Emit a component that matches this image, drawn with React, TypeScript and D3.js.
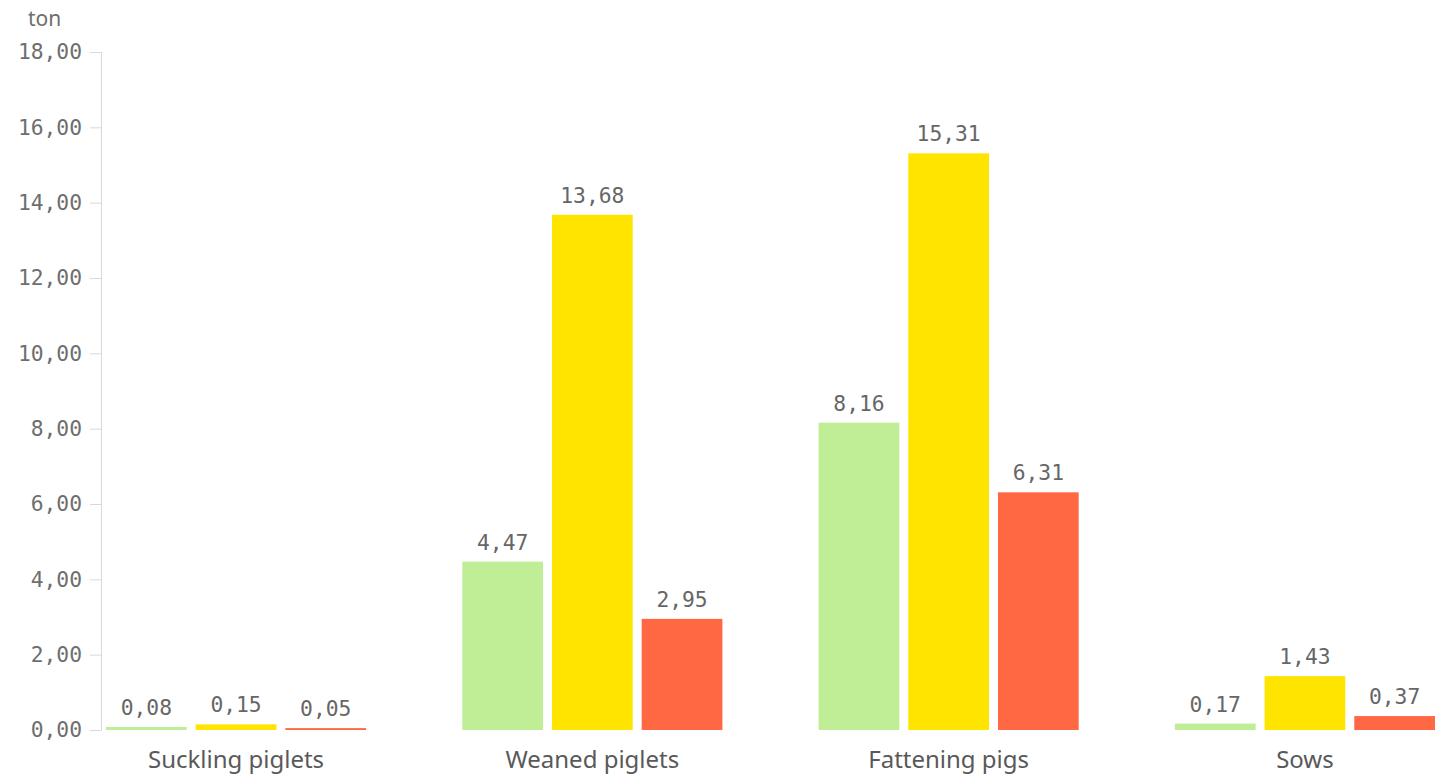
import React from "react";
import * as d3 from "d3";

const categories = ["Suckling piglets", "Weaned piglets", "Fattening pigs", "Sows"];
const seriesKeys = ["green", "yellow", "red"];
const greenValues = [0.08, 4.47, 8.16, 0.17];
const yellowValues = [0.15, 13.68, 15.31, 1.43];
const redValues = [0.05, 2.95, 6.31, 0.37];
const seriesColors = ["#bfee97", "#ffe400", "#ff6843"];
const yTicks = [0, 2, 4, 6, 8, 10, 12, 14, 16, 18];
const unitLabel = "ton";

const W = 1453;
const H = 777;

const fmt = (v: number) => v.toFixed(2).replace(".", ",");

export default function App() {
  const y = d3.scaleLinear().domain([0, 18]).range([730, 52]);
  const x0 = d3.scaleBand<string>().domain(categories).range([106, 1435]).paddingInner(0.27).paddingOuter(0);
  const x1 = d3.scaleBand<string>().domain(seriesKeys).range([0, x0.bandwidth()]).paddingInner(0.1).paddingOuter(0);
  const seriesValues = [greenValues, yellowValues, redValues];
  const numFont = "'DejaVu Sans Mono', monospace";
  const txtFont = "'Noto Sans', sans-serif";

  return (
    <svg width={W} height={H} style={{ position: "absolute", left: 0, top: 0, background: "#fff" }}>
      <text x={28} y={26} fontFamily={txtFont} fontSize={21} fill="#6e6e6e">{unitLabel}</text>
      {/* y axis */}
      <line x1={101.5} x2={101.5} y1={y(18)} y2={y(0)} stroke="#d9d9d9" strokeWidth={1} />
      {yTicks.map((t) => (
        <g key={t}>
          <line x1={90} x2={101.5} y1={y(t) + 0.5} y2={y(t) + 0.5} stroke="#d9d9d9" />
          <text x={82} y={y(t)} dy="0.35em" textAnchor="end" fontFamily={numFont} fontSize={21.3} fill="#6e6e6e">
            {fmt(t)}
          </text>
        </g>
      ))}
      {categories.map((c, ci) => (
        <g key={c} transform={`translate(${x0(c)},0)`}>
          {seriesKeys.map((k, si) => {
            const v = seriesValues[si][ci];
            const bx = x1(k)!;
            const top = y(v);
            return (
              <g key={k}>
                <rect x={bx} y={top} width={x1.bandwidth()} height={y(0) - top} fill={seriesColors[si]} />
                <text x={bx + x1.bandwidth() / 2} y={top - 12} textAnchor="middle" fontFamily={numFont} fontSize={21.3} fill="#666">
                  {fmt(v)}
                </text>
              </g>
            );
          })}
          <text x={x0.bandwidth() / 2} y={768} textAnchor="middle" fontFamily={txtFont} fontSize={24} fill="#595959">
            {c}
          </text>
        </g>
      ))}
    </svg>
  );
}
